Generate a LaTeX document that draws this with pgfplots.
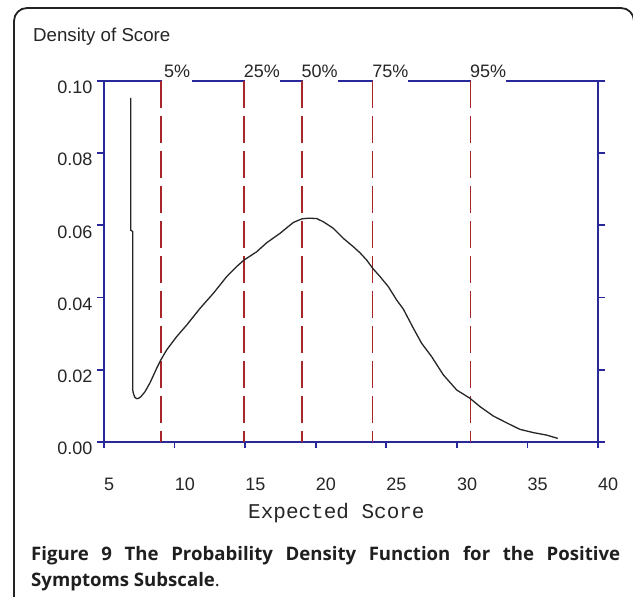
\documentclass[border=0pt]{standalone}
\usepackage{fontspec}
\setmainfont{Liberation Sans}
\newfontfamily\monofont{Liberation Mono}
\newfontfamily\capfont{Open Sans}
\usepackage{pgfplots}
\pgfplotsset{compat=1.18}
\definecolor{axblue}{RGB}{40,40,155}
\definecolor{dred}{RGB}{168,38,42}
\definecolor{framec}{RGB}{35,35,35}
\begin{document}
\begin{tikzpicture}[x=1pt,y=1pt]
\useasboundingbox (0,0) rectangle (633,597);
\fill[white] (0,0) rectangle (633,597);
\begin{scope}
\clip (0,0) rectangle (633,597);
\draw[line width=1.8pt, color=framec, rounded corners=13pt] (14,-40) -- (14,589) -- (634,589) -- (634,-40);
\end{scope}
\begin{axis}[
  at={(104pt,155pt)}, anchor=south west,
  scale only axis, width=494pt, height=361pt,
  xmin=5, xmax=40, ymin=0, ymax=0.1,
  xtick={5,10,15,20,25,30,35,40},
  xticklabels={5,10,15,20,25,30,35,40},
  ytick={0,0.02,0.04,0.06,0.08,0.1},
  yticklabels={0.00,0.02,0.04,0.06,0.08,0.10},
  tick align=outside, major tick length=6.5pt,
  xtick pos=bottom, ytick pos=both,
  axis line style={axblue, line width=1.6pt},
  tick style={axblue, line width=1.8pt},
  xticklabel style={anchor=north west, inner sep=0pt, yshift=-29pt, font=\fontsize{18}{18}\selectfont, text=black!85},
  yticklabel style={anchor=north east, inner sep=0pt, xshift=-5pt, font=\fontsize{18}{18}\selectfont, text=black!85},
  clip=false,
]
\addplot[dred, line width=1.6pt, dash pattern=on 27pt off 8pt] coordinates {(9.04,0.1) (9.04,0)};
\addplot[dred, line width=1.6pt, dash pattern=on 27pt off 8pt] coordinates {(14.93,0.1) (14.93,0)};
\addplot[dred, line width=1.6pt, dash pattern=on 27pt off 8pt] coordinates {(19.02,0.1) (19.02,0)};
\addplot[dred, line width=1.6pt, dash pattern=on 27pt off 8pt] coordinates {(24.03,0.1) (24.03,0)};
\addplot[dred, line width=1.6pt, dash pattern=on 27pt off 8pt] coordinates {(30.96,0.1) (30.96,0)};
\addplot[black!85, line width=1.3pt, line join=round] coordinates {
(6.89,0.0953) (6.89,0.0587) (7.03,0.0583) (7.03,0.0145) (7.08,0.0135)
(7.18,0.0124) (7.32,0.0120) (7.45,0.0121) (7.60,0.0125) (7.90,0.0139)
(8.26,0.0164) (8.73,0.0204) (9.02,0.0227) (9.44,0.0255) (10.15,0.0292)
(10.86,0.0324) (11.80,0.0370) (12.75,0.0412) (13.69,0.0458) (14.40,0.0486)
(14.92,0.0504) (15.82,0.0527) (16.53,0.0552) (17.47,0.0578) (18.41,0.0608)
(19.01,0.0618) (19.48,0.0620) (20.07,0.0619) (20.54,0.0610) (21.25,0.0592)
(21.96,0.0564) (22.66,0.0541) (23.14,0.0524) (23.61,0.0504) (24.04,0.0481)
(24.56,0.0458) (25.15,0.0430) (25.74,0.0393) (26.21,0.0368) (26.92,0.0315)
(27.51,0.0273) (28.22,0.0236) (29.04,0.0186) (29.99,0.0144) (30.93,0.0121)
(31.64,0.0098) (32.58,0.0072) (33.53,0.0053) (34.47,0.0035) (35.42,0.0026)
(36.37,0.0019) (37.15,0.0010)};
\coordinate (g1) at (axis cs:9.04,0.1);
\coordinate (g2) at (axis cs:14.93,0.1);
\coordinate (g3) at (axis cs:19.02,0.1);
\coordinate (g4) at (axis cs:24.03,0.1);
\coordinate (g5) at (axis cs:30.96,0.1);
\end{axis}
% gaps in the top frame line for the percentile labels
\draw[white, line width=3.5pt] ([xshift=0.9pt]g1) -- ++(30,0);
\draw[white, line width=3.5pt] ([xshift=0.9pt]g2) -- ++(35,0);
\draw[white, line width=3.5pt] ([xshift=0.9pt]g3) -- ++(35,0);
\draw[white, line width=3.5pt] ([xshift=0.9pt]g4) -- ++(35,0);
\draw[white, line width=3.5pt] ([xshift=0.9pt]g5) -- ++(35,0);
\begin{scope}[every node/.style={anchor=base west, inner sep=0pt, font=\fontsize{18}{18}\selectfont, text=black!85}]
\node at ([xshift=3pt,yshift=3.5pt]g1) {5\%};
\node at ([xshift=-0.5pt,yshift=3.5pt]g2) {25\%};
\node at ([xshift=-0.5pt,yshift=3.5pt]g3) {50\%};
\node at ([xshift=-0.5pt,yshift=3.5pt]g4) {75\%};
\node at ([xshift=-0.5pt,yshift=3.5pt]g5) {95\%};
\end{scope}
\node[anchor=base west, inner sep=0pt, font=\fontsize{18.7}{18.7}\selectfont, text=black!85] at (33,555) {Density of Score};
\node[anchor=base west, inner sep=0pt, font=\monofont\fontsize{21}{21}\selectfont, text=black!85] at (248,78) {Expected Score};
\node[anchor=base west, inner sep=0pt, font=\capfont\fontsize{18.6}{20}\selectfont, text=black!88] at (31,36) {\makebox[589pt][s]{\bfseries Figure 9 The Probability Density Function for the Positive}};
\node[anchor=base west, inner sep=0pt, font=\capfont\fontsize{18.6}{20}\selectfont, text=black!88] at (31,10) {{\bfseries Symptoms Subscale}.};
\end{tikzpicture}
\end{document}
